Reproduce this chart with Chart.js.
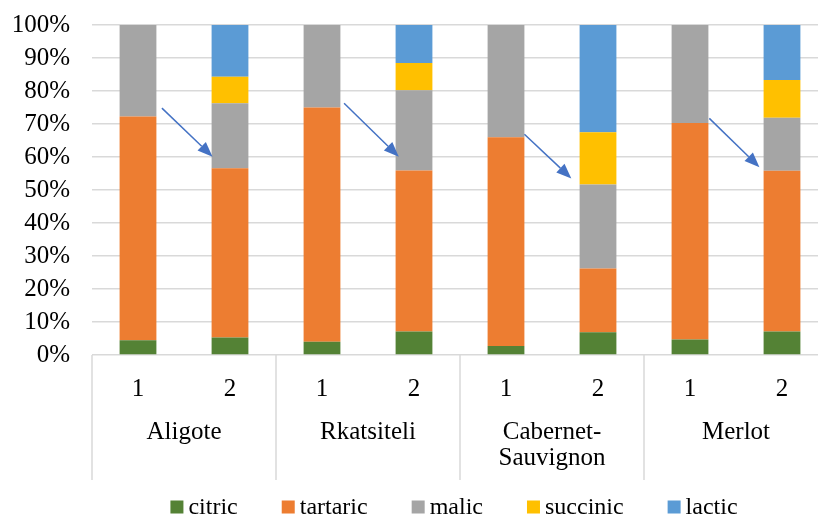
<!DOCTYPE html>
<html>
<head>
<meta charset="utf-8">
<script src="https://cdn.jsdelivr.net/npm/chart.js@4.4.1/dist/chart.umd.min.js"></script>
<style>
  html, body { margin: 0; padding: 0; background: #fff; overflow: hidden; }
  canvas { display: block; }
</style>
</head>
<body>
<canvas id="myChart" width="836" height="517"></canvas>
<script>
// sample number under each bar, grape variety per pair of bars
const samples = ['1', '2', '1', '2', '1', '2', '1', '2'];
const varieties = ['Aligote', 'Rkatsiteli', ['Cabernet-', 'Sauvignon'], 'Merlot'];

// share of each acid, %
const citric = [4.5, 5.3, 4.0, 7.1, 2.7, 6.9, 4.7, 7.1];
const tartaric = [67.8, 51.3, 71.0, 48.8, 63.3, 19.3, 65.6, 48.7];
const malic = [27.7, 19.7, 25.0, 24.3, 34.0, 25.5, 29.7, 16.1];
const succinic = [0, 8.0, 0, 8.3, 0, 15.8, 0, 11.4];
const lactic = [0, 15.7, 0, 11.5, 0, 32.5, 0, 16.7];

const yTicks = [0, 10, 20, 30, 40, 50, 60, 70, 80, 90, 100];

// arrows from sample 1 to sample 2 (value of start and end, %)
const arrowFrom = [74.8, 76.3, 66.9, 71.7];
const arrowTo = [60.1, 60.1, 53.5, 56.9];
const arrowStartShift = [0.26, 0.24, 0.2, 0.21];
const arrowEndShift = [-0.19, -0.165, -0.29, -0.245];

const FONT = 'Liberation Serif, "Times New Roman", serif';
const GRID = '#d9d9d9';

const ctx = document.getElementById('myChart').getContext('2d');

const groupPlugin = {
  id: 'groups',
  afterDraw(chart) {
    const c = chart.ctx;
    const x = chart.scales.x;
    const area = chart.chartArea;
    const step = x.getPixelForValue(1) - x.getPixelForValue(0);

    // divider lines of the grouped axis
    c.save();
    c.strokeStyle = GRID;
    c.lineWidth = 1.5;
    for (let k = 0; k <= varieties.length; k++) {
      const px = x.getPixelForValue(0) - step / 2 + k * 2 * step;
      c.beginPath();
      c.moveTo(px, area.bottom);
      c.lineTo(px, 480);
      c.stroke();
    }

    // variety names
    c.fillStyle = '#000';
    c.font = '25px ' + FONT;
    c.textAlign = 'center';
    c.textBaseline = 'alphabetic';
    varieties.forEach(function (name, k) {
      const cx = (x.getPixelForValue(2 * k) + x.getPixelForValue(2 * k + 1)) / 2;
      const lines = Array.isArray(name) ? name : [name];
      lines.forEach(function (line, j) {
        c.fillText(line, cx, 439 + j * 26);
      });
    });

    // legend
    c.font = '24px ' + FONT;
    c.textAlign = 'left';
    c.textBaseline = 'middle';
    const box = 13, textGap = 5, itemGap = 44;
    const ds = chart.data.datasets;
    let total = 0;
    const widths = ds.map(function (d) {
      const w = box + textGap + c.measureText(d.label).width;
      total += w;
      return w;
    });
    total += itemGap * (ds.length - 1);
    let lx = 454 - total / 2;
    const ly = 507;
    ds.forEach(function (d, i) {
      c.fillStyle = d.backgroundColor;
      c.fillRect(lx, ly - box / 2, box, box);
      c.fillStyle = '#000';
      c.fillText(d.label, lx + box + textGap, ly + 1);
      lx += widths[i] + itemGap;
    });
    c.restore();
  },
  afterDatasetsDraw(chart) {
    const c = chart.ctx;
    const x = chart.scales.x;
    const y = chart.scales.y;
    const step = x.getPixelForValue(1) - x.getPixelForValue(0);
    c.save();
    c.strokeStyle = '#4472C4';
    c.fillStyle = '#4472C4';
    c.lineWidth = 1.5;
    for (let k = 0; k < arrowFrom.length; k++) {
      const x1 = x.getPixelForValue(2 * k) + arrowStartShift[k] * step;
      const x2 = x.getPixelForValue(2 * k + 1) + arrowEndShift[k] * step;
      const y1 = y.getPixelForValue(arrowFrom[k]);
      const y2 = y.getPixelForValue(arrowTo[k]);
      const ang = Math.atan2(y2 - y1, x2 - x1);
      const len = 15, half = 6;
      const bx = x2 - len * Math.cos(ang);
      const by = y2 - len * Math.sin(ang);
      c.beginPath();
      c.moveTo(x1, y1);
      c.lineTo(bx, by);
      c.stroke();
      c.beginPath();
      c.moveTo(x2, y2);
      c.lineTo(bx + half * Math.sin(ang), by - half * Math.cos(ang));
      c.lineTo(bx - half * Math.sin(ang), by + half * Math.cos(ang));
      c.closePath();
      c.fill();
    }
    c.restore();
  },
};

const myChart = new Chart(ctx, {
  type: 'bar',
  data: {
    labels: samples,
    datasets: [
      { label: 'citric', data: citric, backgroundColor: '#548235' },
      { label: 'tartaric', data: tartaric, backgroundColor: '#ED7D31' },
      { label: 'malic', data: malic, backgroundColor: '#A5A5A5' },
      { label: 'succinic', data: succinic, backgroundColor: '#FFC000' },
      { label: 'lactic', data: lactic, backgroundColor: '#5B9BD5' },
    ],
  },
  options: {
    responsive: false,
    animation: false,
    devicePixelRatio: 1,
    layout: { padding: { left: 0, right: 8, top: 25, bottom: 0 } },
    datasets: {
      bar: { categoryPercentage: 1, barPercentage: 0.4, borderWidth: 0 },
    },
    plugins: {
      legend: { display: false },
      tooltip: { enabled: false },
    },
    scales: {
      x: {
        stacked: true,
        grid: { display: false },
        border: { display: false },
        ticks: {
          color: '#000',
          font: { family: FONT, size: 25 },
          padding: 11,
          maxRotation: 0,
        },
        afterFit: function (s) {
          s.height = 162;
          s.paddingLeft = 0;
          s.paddingRight = 0;
        },
      },
      y: {
        stacked: true,
        min: 0,
        max: 100,
        grid: { color: GRID, lineWidth: 1.5, drawTicks: false },
        border: { display: false },
        afterBuildTicks: function (s) {
          s.ticks = yTicks.map(function (v) { return { value: v }; });
        },
        ticks: {
          color: '#000',
          font: { family: FONT, size: 25 },
          padding: 22,
          autoSkip: false,
          callback: function (v) { return v + '%'; },
        },
        afterFit: function (s) {
          s.width = 92;
          s.paddingTop = 0;
          s.paddingBottom = 0;
        },
      },
    },
  },
  plugins: [groupPlugin],
});
</script>
</body>
</html>
